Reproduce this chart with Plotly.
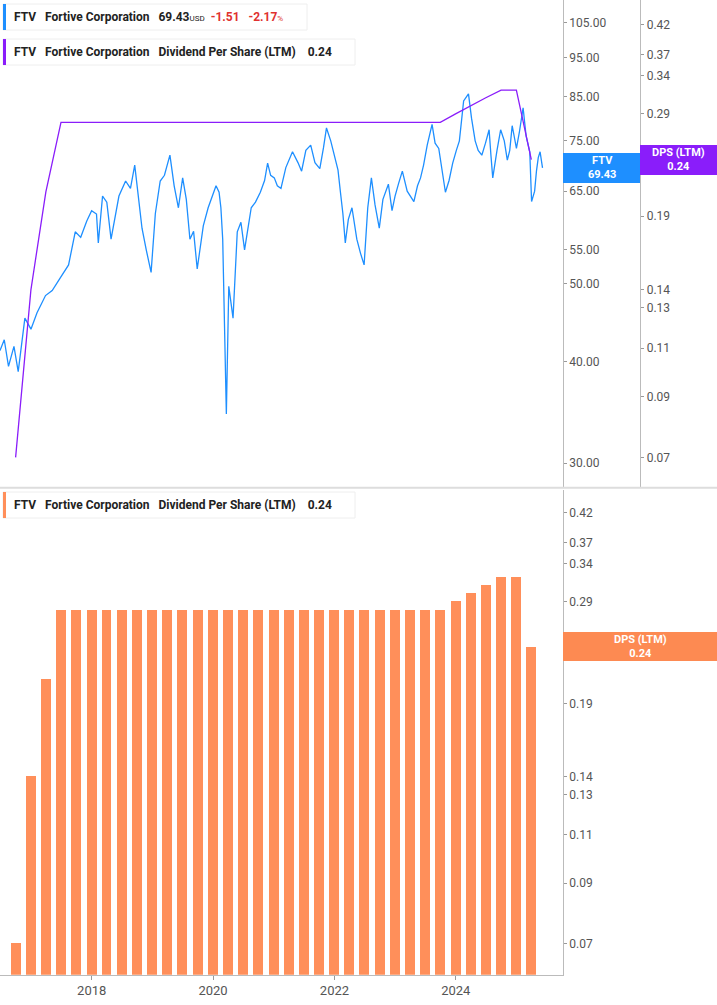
import pandas as pd
import plotly.graph_objects as go

font_family = 'Roboto'

# price, sampled from the chart (fractional year, close)
price_t = [2016.49, 2016.56, 2016.79, 2016.90, 2017.00, 2017.24, 2017.47, 2017.62, 2017.73, 2017.92,
           2018.08, 2018.11, 2018.18, 2018.32, 2018.45, 2018.56, 2018.71, 2018.83, 2018.98, 2019.13,
           2019.29, 2019.43, 2019.50, 2019.62, 2019.74, 2019.84, 2019.99, 2020.10, 2020.16, 2020.19,
           2020.22, 2020.26, 2020.33, 2020.40, 2020.52, 2020.63, 2020.78, 2020.90, 2021.01, 2021.12,
           2021.31, 2021.46, 2021.61, 2021.76, 2021.87, 2022.02, 2022.10, 2022.18, 2022.29, 2022.37,
           2022.49, 2022.61, 2022.74, 2022.89, 2023.00, 2023.12, 2023.31, 2023.42, 2023.53, 2023.61,
           2023.72, 2023.83, 2023.95, 2024.06, 2024.13, 2024.21, 2024.32, 2024.43, 2024.55, 2024.61,
           2024.74, 2024.85, 2024.93, 2025.00, 2025.11, 2025.22, 2025.25, 2025.33, 2025.39, 2025.43,
           2016.63, 2016.72, 2017.10, 2017.35, 2017.82, 2018.00, 2018.25, 2018.38, 2018.64, 2018.77,
           2018.90, 2019.05, 2019.20, 2019.36, 2019.56, 2019.68, 2019.92, 2020.05, 2020.13, 2020.46,
           2020.58, 2020.70, 2020.85, 2020.95, 2021.06, 2021.20, 2021.40, 2021.53, 2021.68, 2021.82,
           2021.94, 2022.06, 2022.14, 2022.23, 2022.33, 2022.43, 2022.55, 2022.67, 2022.80, 2022.95,
           2023.06, 2023.20, 2023.37, 2023.47, 2023.66, 2023.78, 2023.89, 2024.01, 2024.26, 2024.37,
           2024.49, 2024.58, 2024.68, 2024.80, 2024.89, 2024.97, 2025.05, 2025.16, 2025.30, 2025.36]
price = [41.3, 42.6, 38.9, 45.3, 43.9, 48.3, 50.6, 52.7, 57.9, 59.7,
         60.9, 56.1, 64.1, 56.7, 64.1, 66.9, 70.0, 58.5, 51.6, 66.9,
         72.0, 62.0, 67.5, 56.7, 52.1, 58.9, 64.1, 64.8, 56.7, 43.5,
         34.5, 49.6, 45.3, 57.9, 55.0, 62.0, 64.8, 70.4, 67.5, 65.5,
         72.7, 68.8, 74.1, 69.3, 77.8, 71.0, 64.8, 56.1, 62.0, 56.7,
         52.7, 67.5, 58.5, 66.3, 64.1, 68.8, 63.1, 67.5, 74.1, 78.6,
         73.4, 64.8, 70.4, 75.0, 84.0, 85.7, 75.0, 72.0, 77.4, 67.5,
         77.4, 71.0, 78.3, 73.4, 82.4, 72.7, 63.1, 68.8, 72.7, 69.43,
         39.5, 41.8, 46.0, 49.0, 57.0, 61.5, 63.0, 60.0, 65.5, 63.5,
         55.0, 61.0, 68.0, 66.0, 63.5, 58.0, 62.0, 66.0, 62.0, 59.5,
         58.5, 63.0, 67.0, 68.0, 66.0, 69.5, 70.5, 73.0, 70.5, 73.5,
         75.0, 69.0, 61.0, 60.0, 59.0, 54.5, 62.0, 62.5, 63.5, 61.5,
         66.5, 65.0, 66.0, 70.0, 74.5, 68.0, 67.0, 73.0, 80.0, 73.0,
         74.5, 72.0, 73.0, 75.0, 73.0, 75.5, 77.0, 76.0, 65.0, 71.5]

# dividend per share (LTM), quarterly
dps_dates = pd.date_range('2016-09-30', '2025-03-31', freq='QE')
dps = [0.07, 0.14, 0.21] + [0.28] * 26 + [0.29, 0.30, 0.31, 0.32, 0.32, 0.24]


def to_date(t):
    return pd.Timestamp('2016-01-01') + pd.Timedelta(days=(t - 2016) * 365.25)


pts = sorted(zip(price_t, price))
price_x = [to_date(t) for t, _ in pts]
price_y = [v for _, v in pts]
x_range = [to_date(2016.49), to_date(2025.765)]

blue = '#1e8fff'
purple = '#8a1dfa'
orange = '#ff8f5a'
grey = '#555555'

fig = go.Figure()
fig.add_trace(go.Scatter(x=price_x, y=price_y, mode='lines', line=dict(color=blue, width=1.3),
                         xaxis='x', yaxis='y', showlegend=False))
fig.add_trace(go.Scatter(x=dps_dates, y=dps, mode='lines', line=dict(color=purple, width=1.3),
                         xaxis='x', yaxis='y3', showlegend=False))
fig.add_trace(go.Bar(x=dps_dates, y=dps, marker=dict(color=orange, line=dict(width=0)),
                     width=1000 * 3600 * 24 * 60, xaxis='x2', yaxis='y2', showlegend=False))

dps_ticks = [0.07, 0.09, 0.11, 0.13, 0.14, 0.19, 0.29, 0.34, 0.37, 0.42]
price_ticks = [30, 40, 50, 55, 65, 75, 85, 95, 105]
ax_common = dict(type='log', side='right', showgrid=False, zeroline=False, showline=True,
                 linecolor='#bbbbbb', ticks='outside', ticklen=3, tickcolor='#999999',
                 automargin=False, tickfont=dict(size=12, color=grey))

fig.update_layout(
    width=717, height=1005,
    margin=dict(l=0, r=0, t=0, b=0),
    plot_bgcolor='white', paper_bgcolor='white',
    font=dict(family=font_family),
    bargap=0,
    xaxis=dict(domain=[0, 0.785], range=x_range, anchor='y', showticklabels=False,
               showgrid=False, showline=False, zeroline=False, automargin=False),
    xaxis2=dict(domain=[0, 0.785], range=x_range, anchor='y2', showgrid=False, automargin=False,
                showline=True, linecolor='#bbbbbb', ticks='outside', ticklen=4, tickcolor='#999999',
                tickvals=['2018-01-01', '2020-01-01', '2022-01-01', '2024-01-01'],
                ticktext=['2018', '2020', '2022', '2024'],
                tickfont=dict(size=13, color=grey, family=font_family)),
    yaxis=dict(ax_common, domain=[0.515, 1], anchor='x', range=[1.447, 2.049],
               tickvals=price_ticks, ticktext=['%.2f' % v for v in price_ticks]),
    yaxis3=dict(ax_common, overlaying='y', anchor='free', position=0.893, range=[-1.209, -0.333],
                tickvals=dps_ticks, ticktext=['%.2f' % v for v in dps_ticks]),
    yaxis2=dict(ax_common, domain=[0.03, 0.512], anchor='x2', range=[-1.211, -0.337],
                tickvals=dps_ticks[:6] + [0.24] + dps_ticks[6:],
                ticktext=['%.2f' % v for v in dps_ticks[:6] + [0.24] + dps_ticks[6:]]),
)

# separator between panes
fig.add_shape(type='line', xref='paper', yref='paper', x0=0, x1=1, y0=0.5147, y1=0.5147,
              line=dict(color='#dddddd', width=2))

# legend boxes
def legend_box(y_top, w, color, parts):
    y0 = 1 - (y_top + 26) / 1005
    y1 = 1 - y_top / 1005
    fig.add_shape(type='rect', xref='paper', yref='paper', x0=3 / 717, x1=w / 717, y0=y0, y1=y1,
                  fillcolor='white', line=dict(color='#eeeeee', width=1))
    fig.add_shape(type='rect', xref='paper', yref='paper', x0=3 / 717, x1=6 / 717, y0=y0, y1=y1,
                  fillcolor=color, line=dict(width=0))
    fig.add_annotation(xref='paper', yref='paper', x=12 / 717, y=(y0 + y1) / 2, xanchor='left',
                       yanchor='middle', showarrow=False, text=parts,
                       font=dict(size=12, color='#222222', family=font_family))


legend_box(4, 307, blue, '<b>FTV</b>   <b>Fortive Corporation</b>   <b>69.43</b>'
           '<span style="font-size:8px">USD</span>  '
           '<b><span style="color:#e0312f">-1.51   -2.17</span></b>'
           '<span style="font-size:8px;color:#e0312f">%</span>')
legend_box(39, 355, purple, '<b>FTV</b>   <b>Fortive Corporation</b>   '
           '<b>Dividend Per Share (LTM)</b>    <b>0.24</b>')
legend_box(492, 355, orange, '<b>FTV</b>   <b>Fortive Corporation</b>   '
           '<b>Dividend Per Share (LTM)</b>    <b>0.24</b>')

# value tags on the right
def tag(x0, x1, y0, y1, color, text):
    fig.add_shape(type='rect', xref='paper', yref='paper', x0=x0 / 717, x1=x1 / 717,
                  y0=1 - y1 / 1005, y1=1 - y0 / 1005, fillcolor=color, line=dict(width=0))
    fig.add_annotation(xref='paper', yref='paper', x=(x0 + x1) / 2 / 717,
                       y=1 - (y0 + y1) / 2 / 1005, xanchor='center', yanchor='middle',
                       showarrow=False, text=text,
                       font=dict(size=11, color='white', family=font_family))


tag(563, 640, 153, 183, blue, '<b>FTV</b><br><b>69.43</b>')
tag(640, 717, 145, 175, purple, '<b>DPS (LTM)</b><br><b>0.24</b>')
tag(563, 717, 632, 661, '#fd8a52', '<b>DPS (LTM)</b><br><b>0.24</b>')

fig.write_html('out.html', config={'displayModeBar': False},
               post_script="document.body.style.margin='0';")
